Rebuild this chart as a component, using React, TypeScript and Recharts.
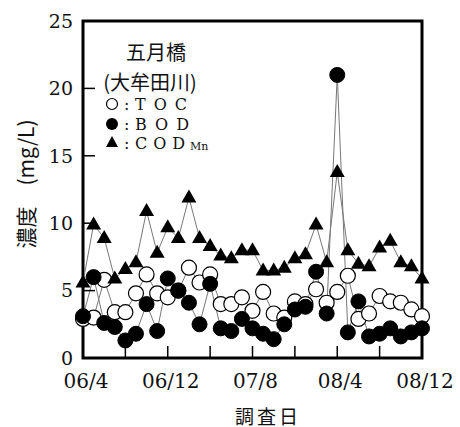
import { Customized, Line, LineChart, ReferenceArea, XAxis, YAxis } from "recharts";

// months counted from 2006/04 (one survey per month)
const months = [
  0, 1, 2, 3, 4, 5, 6, 7, 8, 9, 10, 11, 12, 13, 14, 15, 16,
  17, 18, 19, 20, 21, 22, 23, 24, 25, 26, 27, 28, 29, 30, 31, 32,
];
const toc = [
  2.9, 3.0, 5.8, 3.4, 3.4, 4.8, 6.2, 4.8, 4.5, 5.0, 6.7, 5.6, 6.2, 4.0, 4.0, 4.5, 3.5,
  4.9, 3.3, 3.0, 4.2, 4.0, 5.1, 4.1, 4.9, 6.1, 2.9, 3.3, 4.6, 4.2, 4.1, 3.6, 3.1,
];
const bod = [
  3.1, 6.0, 2.6, 2.3, 1.3, 1.8, 4.0, 2.0, 5.9, 5.0, 4.1, 2.5, 5.5, 2.2, 2.0, 2.9, 2.2,
  1.8, 1.4, 2.5, 3.6, 3.8, 6.4, 3.3, 21.0, 1.9, 4.2, 1.6, 1.8, 2.2, 1.6, 1.9, 2.2,
];
const codMn = [
  5.6, 9.9, 8.9, 5.9, 6.6, 7.1, 10.9, 7.8, 9.7, 8.9, 11.9, 8.9, 8.3, 7.6, 7.4, 8.0, 8.0,
  6.5, 6.5, 6.7, 7.4, 7.7, 9.9, 7.1, 13.8, 8.0, 7.0, 6.8, 8.2, 8.7, 7.1, 6.8, 5.9,
];

const xTicks = [0, 4, 8, 12, 16, 20, 24, 28, 32];
const xTickLabels = ["06/4", "", "06/12", "", "07/8", "", "08/4", "", "08/12"];
const yTicks = [0, 5, 10, 15, 20, 25];

const data = months.map((m, i) => ({ m, toc: toc[i], bod: bod[i], cod: codMn[i] }));

const NUM_FONT = "'DejaVu Serif', 'Liberation Serif', serif";
const JP_FONT = "'Noto Sans CJK JP', 'DejaVu Serif', serif";
const LINE = "#777";

function Triangle(props: any) {
  const { cx, cy, index } = props;
  if (cx == null || cy == null) return null;
  const w = 7.5;
  return (
    <polygon
      key={`tri-${index}`}
      points={`${cx},${cy - 8} ${cx - w},${cy + 5} ${cx + w},${cy + 5}`}
      fill="#000"
    />
  );
}

function Annotations() {
  return (
    <g fill="#111">
      <text x={156} y={60} fontFamily={JP_FONT} fontSize={20} textAnchor="middle">
        五月橋
      </text>
      <text x={150} y={90} fontFamily={JP_FONT} fontSize={20} textAnchor="middle">
        (大牟田川)
      </text>
      <circle cx={112} cy={104} r={5.5} fill="#fff" stroke="#000" strokeWidth={1.2} />
      <circle cx={112} cy={124} r={6} fill="#000" />
      <polygon points="112,136 106,147 118,147" fill="#000" />
      <g fontFamily={NUM_FONT} fontSize={16}>
        <text x={124} y={110}>:</text>
        <text x={124} y={130}>:</text>
        <text x={124} y={149}>:</text>
        <text x={135} y={110} letterSpacing={8}>TOC</text>
        <text x={135} y={130} letterSpacing={8}>BOD</text>
        <text x={135} y={149} letterSpacing={6}>COD</text>
        <text x={190} y={150} fontSize={11}>Mn</text>
      </g>
      <text
        x={25}
        y={184}
        fontFamily={JP_FONT}
        fontSize={21}
        textAnchor="middle"
        dominantBaseline="central"
        transform="rotate(-90 25 184)"
      >
        濃度　(mg/L)
      </text>
      <text
        x={268}
        y={415}
        fontFamily={JP_FONT}
        fontSize={19}
        textAnchor="middle"
        dominantBaseline="central"
        letterSpacing={3}
      >
        調査日
      </text>
    </g>
  );
}

export default function App() {
  const tickLine = { stroke: "#000", strokeWidth: 1.5 };
  return (
    <div style={{ position: "absolute", left: 0, top: 0, background: "#fff" }}>
      <LineChart
        width={460}
        height={427}
        data={data}
        margin={{ top: 21, right: 38, bottom: 0, left: 0 }}
      >
        <XAxis
          dataKey="m"
          type="number"
          domain={[0, 32]}
          ticks={xTicks}
          tickFormatter={(v: number) => xTickLabels[xTicks.indexOf(v)] ?? ""}
          height={69}
          axisLine={false}
          tickLine={tickLine}
          tickSize={-12}
          tickMargin={28}
          tick={{ fill: "#111", fontSize: 20, fontFamily: NUM_FONT, dx: 3 }}
        />
        <XAxis
          xAxisId="top"
          dataKey="m"
          type="number"
          orientation="top"
          domain={[0, 32]}
          ticks={xTicks}
          tickFormatter={() => ""}
          height={0}
          axisLine={false}
          tickLine={tickLine}
          tickSize={-12}
        />
        <YAxis
          type="number"
          domain={[0, 25]}
          ticks={yTicks}
          width={83}
          axisLine={false}
          tickLine={tickLine}
          tickSize={-12}
          tickMargin={22}
          tick={{ fill: "#111", fontSize: 19, fontFamily: NUM_FONT }}
        />
        <YAxis
          yAxisId="right"
          type="number"
          orientation="right"
          domain={[0, 25]}
          ticks={yTicks}
          tickFormatter={() => ""}
          width={0}
          axisLine={false}
          tickLine={tickLine}
          tickSize={-12}
        />
        <ReferenceArea
          x1={0}
          x2={32}
          y1={0}
          y2={25}
          fill="none"
          stroke="#000"
          strokeWidth={3}
          fillOpacity={0}
          ifOverflow="visible"
        />
        <Line
          dataKey="toc"
          stroke={LINE}
          strokeWidth={1}
          dot={{ r: 7.5, fill: "#fff", stroke: "#000", strokeWidth: 1.2 }}
          activeDot={false}
          isAnimationActive={false}
        />
        <Line
          dataKey="bod"
          stroke={LINE}
          strokeWidth={1}
          dot={{ r: 7.5, fill: "#000", stroke: "#000", strokeWidth: 1 }}
          activeDot={false}
          isAnimationActive={false}
        />
        <Line
          dataKey="cod"
          stroke={LINE}
          strokeWidth={1}
          dot={Triangle}
          activeDot={false}
          isAnimationActive={false}
        />
        <Customized component={<Annotations />} />
      </LineChart>
    </div>
  );
}
